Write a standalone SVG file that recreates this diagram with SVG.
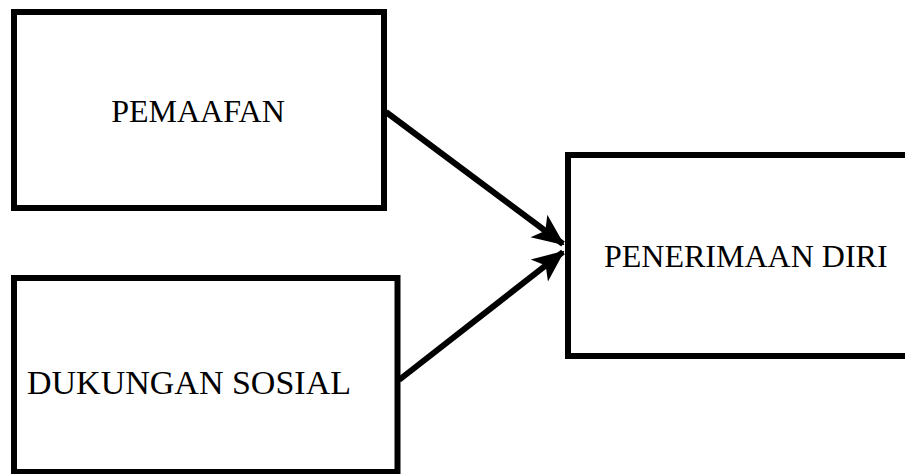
<svg xmlns="http://www.w3.org/2000/svg" width="905" height="474" viewBox="0 0 905 474">
<style>
.box{fill:#fff;stroke:#000;stroke-width:6}
.lbl{font-family:"Liberation Serif","Times New Roman",serif;font-size:32px;fill:#000}
.conn{stroke:#000;stroke-width:6;fill:none}
</style>
<defs>
<marker id="ah" markerUnits="userSpaceOnUse" markerWidth="32" markerHeight="32" viewBox="0 0 32 32" refX="30" refY="16" orient="auto">
<path d="M0,2 L32,16 L0,30 L8,16 Z" fill="#000"/>
</marker>
</defs>
<rect width="905" height="474" fill="#fff"/>
<g id="node-pemaafan">
<rect class="box" x="14" y="12" width="370" height="196"/>
<text class="lbl" x="198" y="122" text-anchor="middle">PEMAAFAN</text>
</g>
<g id="node-dukungan">
<rect class="box" x="14" y="278" width="383.5" height="194"/>
<text class="lbl" x="189" y="394" text-anchor="middle" style="font-size:34px">DUKUNGAN SOSIAL</text>
</g>
<g id="node-penerimaan">
<rect class="box" x="568" y="155" width="360" height="201"/>
<text class="lbl" x="604" y="267">PENERIMAAN DIRI</text>
</g>
<g id="connectors">
<line class="conn" x1="386" y1="112" x2="563" y2="244" marker-end="url(#ah)"/>
<line class="conn" x1="399" y1="380" x2="563" y2="252" marker-end="url(#ah)"/>
</g>
</svg>
